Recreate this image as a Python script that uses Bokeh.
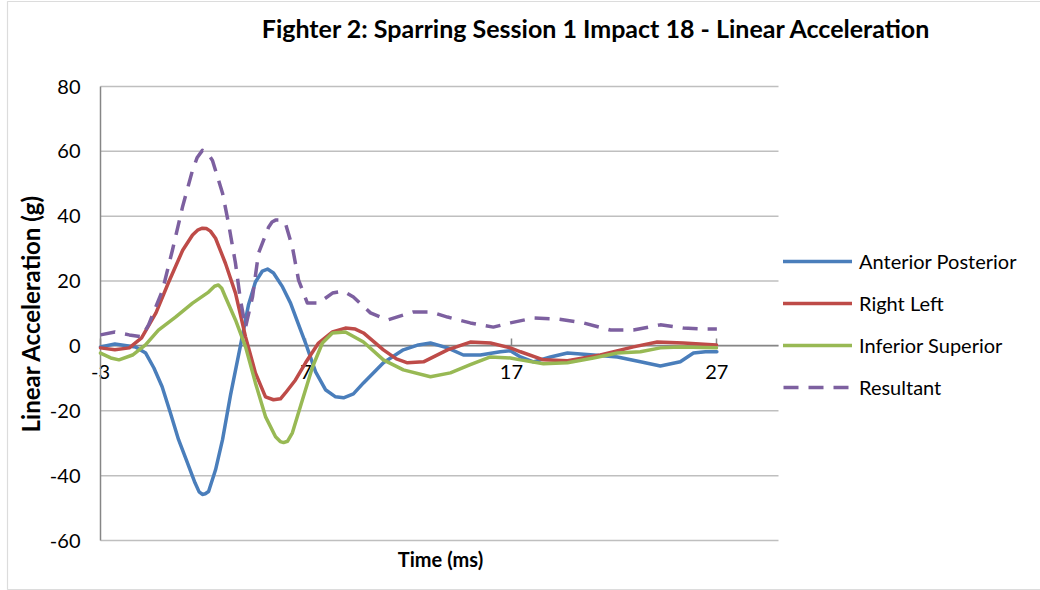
import math
from bokeh.plotting import figure
from bokeh.models import Range1d, FixedTicker, Legend, LegendItem, Label, BoxAnnotation
from bokeh.embed import file_html
from bokeh.resources import INLINE

title_text = "Fighter 2:  Sparring Session 1 Impact 18 - Linear Acceleration"
x_label = "Time (ms)"
y_label = "Linear Acceleration (g)"
x_tick_values = [-3, 7, 17, 27]
y_tick_values = [-60, -40, -20, 0, 20, 40, 60, 80]
series_names = ["Anterior Posterior", "Right Left", "Inferior Superior", "Resultant"]

ap_t = [-3.0, -2.3, -1.3, -0.8, -0.4, 0.0, 0.4, 0.8, 1.2, 1.6, 1.8, 1.96, 2.1, 2.26, 2.6, 2.94, 3.33, 3.81,
        4.2, 4.54, 4.88, 5.13, 5.42, 5.86, 6.25, 6.59, 6.98, 7.47, 7.95, 8.44, 8.83, 9.31, 9.8,
        10.77, 11.74, 12.47, 13.06, 13.89, 14.66, 15.49, 16.46, 16.95, 17.44, 18.07, 18.9, 19.73,
        21.0, 22.16, 23.28, 24.25, 25.22, 25.86, 26.44, 27.0]
ap_g = [-0.3, 0.6, -0.3, -2.2, -6.8, -12.6, -20.6, -28.9, -35.5, -42.2, -45.0, -45.8, -45.6, -44.9, -38.2, -28.9,
        -15.1, 0.0, 12.6, 19.7, 23.1, 23.7, 22.5, 18.2, 13.2, 7.4, 0.9, -8.0, -13.5, -15.7, -16.0,
        -14.8, -11.4, -5.2, -1.2, 0.3, 0.9, -0.6, -2.8, -2.8, -1.8, -1.5, -3.4, -4.9, -3.4, -2.2,
        -2.8, -3.4, -4.9, -6.2, -4.9, -2.2, -1.8, -1.8]

rl_t = [-3.0, -2.3, -1.6, -1.0, -0.3, 0.3, 1.0, 1.48, 1.75, 1.96, 2.15, 2.35, 2.6, 3.08, 3.57, 4.06, 4.54,
        5.03, 5.42, 5.76, 6.0, 6.49, 6.98, 7.61, 8.29, 8.92, 9.4, 9.8, 10.77, 11.4, 11.94, 12.72,
        13.89, 15.0, 15.98, 16.95, 17.44, 18.56, 19.73, 21.33, 22.94, 24.1, 25.37, 26.98]
rl_g = [-0.6, -1.2, -0.6, 2.5, 10.2, 19.4, 29.5, 34.2, 35.8, 36.3, 36.2, 35.4, 33.2, 25.5, 16.3, 2.8, -8.3,
        -15.7, -16.6, -16.3, -14.5, -10.5, -5.2, 0.9, 4.3, 5.5, 5.2, 4.0, -1.2, -4.0, -5.2, -4.9,
        -1.2, 1.2, 0.9, -0.6, -1.8, -4.3, -4.6, -2.8, -0.3, 1.2, 0.9, 0.3]

is_t = [-3.0, -2.5, -2.1, -1.44, -0.81, -0.18, 0.65, 1.48, 2.26, 2.55, 2.74, 2.9, 3.08, 3.57, 4.06, 4.54,
        5.03, 5.52, 5.75, 5.91, 6.1, 6.34, 6.83, 7.32, 7.8, 8.29, 8.92, 9.8, 10.77, 11.74, 13.06, 14.03,
        15.0, 15.98, 16.95, 17.44, 18.56, 19.73, 20.99, 22.16, 23.28, 24.25, 25.22, 26.98]
is_g = [-2.2, -3.7, -4.3, -2.8, 0.3, 4.9, 8.9, 13.2, 16.6, 18.4, 18.8, 17.8, 15.1, 8.0, -0.3, -11.4,
        -21.8, -28.0, -29.5, -29.8, -29.4, -26.8, -16.6, -6.5, 0.9, 4.0, 4.3, 1.2, -4.3, -7.4, -9.5, -8.3,
        -5.8, -3.4, -3.7, -4.3, -5.5, -5.2, -3.7, -2.2, -1.8, -0.6, -0.3, -0.6]

res_t = [-3.0, -2.3, -1.6, -1.0, -0.66, 0.02, 0.5, 0.99, 1.48, 1.7, 1.96, 2.2, 2.45, 2.94, 3.23, 3.57, 3.81,
         4.06, 4.4, 4.69, 5.18, 5.35, 5.52, 5.75, 6.0, 6.34, 6.64, 7.07, 7.61, 8.29, 8.83, 9.31, 10.14, 10.97,
         12.23, 13.06, 13.89, 15.0, 16.12, 16.95, 18.07, 19.24, 20.5, 21.82, 22.94, 24.25, 25.37,
         26.29, 27.0]
res_g = [3.4, 4.3, 3.4, 2.8, 6.5, 17.2, 29.5, 42.8, 54.2, 58.0, 60.3, 59.5, 57.2, 47.1, 37.8, 25.5, 14.2, 5.8,
         15.1, 28.6, 36.6, 38.2, 38.8, 38.8, 37.8, 30.5, 20.3, 13.2, 13.2, 16.3, 16.9, 15.1, 10.2, 8.0, 10.5,
         10.5, 8.9, 7.1, 5.8, 7.1, 8.6, 8.3, 7.1, 4.9, 4.9, 6.5, 5.5, 5.2, 5.2]

# axis extents of the plot area (value axis -60..80, time axis -3..30)
X_AXIS = (-3, 30)
Y_AXIS = (-60, 80)

colors = ["#4A7EBB", "#BE4B48", "#98B954", "#7D60A0"]
FONT = "Lato"
AXIS_GRAY = "#868686"
W, H = 1040, 590

# whole canvas is the frame; plot area occupies px 100..778 x 86..540
px_per_x = 678 / (X_AXIS[1] - X_AXIS[0])
px_per_y = 454 / (Y_AXIS[1] - Y_AXIS[0])
x_rng = Range1d(X_AXIS[0] - 100 / px_per_x, X_AXIS[1] + (W - 778) / px_per_x)
y_rng = Range1d(Y_AXIS[0] - (H - 540) / px_per_y, Y_AXIS[1] + 86 / px_per_y)

p = figure(width=W, height=H, output_backend="svg", toolbar_location=None,
           x_range=x_rng, y_range=y_rng,
           min_border_left=0, min_border_right=0, min_border_top=0, min_border_bottom=0)
p.outline_line_color = None
p.background_fill_color = "white"
p.border_fill_color = "white"
p.xgrid.visible = False
p.ygrid.visible = False

# chart-area border
p.add_layout(BoxAnnotation(left=7, right=W + 10, bottom=1, top=H - 1,
                           left_units="screen", right_units="screen",
                           bottom_units="screen", top_units="screen",
                           fill_alpha=0, line_color="#8C8C8C", line_width=1.2))

# horizontal gridlines across the plot area
p.segment(x0=[X_AXIS[0]] * len(y_tick_values), x1=[X_AXIS[1]] * len(y_tick_values),
          y0=y_tick_values, y1=y_tick_values, line_color="#BFBFBF", line_width=1.5, level="image")

# x axis crossing at zero
xa = p.xaxis[0]
xa.fixed_location = 0
xa.bounds = X_AXIS
xa.ticker = FixedTicker(ticks=x_tick_values)
xa.major_label_overrides = {v: str(v) for v in x_tick_values}
xa.major_tick_in = 7
xa.major_tick_out = 0
xa.minor_tick_in = 0
xa.minor_tick_out = 0
xa.axis_line_color = AXIS_GRAY
xa.axis_line_width = 1.5
xa.major_tick_line_color = AXIS_GRAY
xa.major_tick_line_width = 1.5
xa.major_label_text_font = FONT
xa.major_label_text_font_size = "20px"
xa.major_label_text_color = "black"
xa.major_label_standoff = 19
xa.level = "underlay"

ya = p.yaxis[0]
ya.fixed_location = X_AXIS[0]
ya.bounds = Y_AXIS
ya.ticker = FixedTicker(ticks=y_tick_values)
ya.major_label_overrides = {v: str(v) for v in y_tick_values}
ya.major_tick_in = 0
ya.major_tick_out = 0
ya.minor_tick_in = 0
ya.minor_tick_out = 0
ya.axis_line_color = AXIS_GRAY
ya.axis_line_width = 1.5
ya.major_label_text_font = FONT
ya.major_label_text_font_size = "20px"
ya.major_label_text_color = "black"
ya.major_label_standoff = 20
ya.level = "underlay"

xs = [ap_t, rl_t, is_t, res_t]
ys = [ap_g, rl_g, is_g, res_g]
items = []
for name, tt, gg, c in zip(series_names, xs, ys, colors):
    if name == "Resultant":
        r = p.line(tt, gg, line_color=c, line_width=3.5, line_dash="15 10", line_join="round")
    else:
        r = p.line(tt, gg, line_color=c, line_width=3.5, line_join="round", line_cap="round")
    items.append(LegendItem(label=name, renderers=[r]))

legend = Legend(items=items, location=(783, H - 399), orientation="vertical",
                glyph_width=69, glyph_height=20, label_height=20, spacing=18,
                label_standoff=7, padding=5, margin=0,
                label_text_font=FONT, label_text_font_size="20px", label_text_color="black",
                border_line_color=None, background_fill_alpha=0)
p.add_layout(legend)

p.add_layout(Label(x=599, y=H - 27, x_units="screen", y_units="screen", text=title_text,
                   text_align="center", text_baseline="middle", text_font=FONT,
                   text_font_style="bold", text_font_size="25px", text_color="black"))
p.add_layout(Label(x=440, y=H - 558, x_units="screen", y_units="screen", text=x_label,
                   text_align="center", text_baseline="middle", text_font=FONT,
                   text_font_style="bold", text_font_size="20px", text_color="black"))
p.add_layout(Label(x=30, y=H - 313, x_units="screen", y_units="screen", text=y_label,
                   angle=math.pi / 2, text_align="center", text_baseline="middle", text_font=FONT,
                   text_font_style="bold", text_font_size="24px", text_color="black"))

open("out.html", "w").write(file_html(p, INLINE))
